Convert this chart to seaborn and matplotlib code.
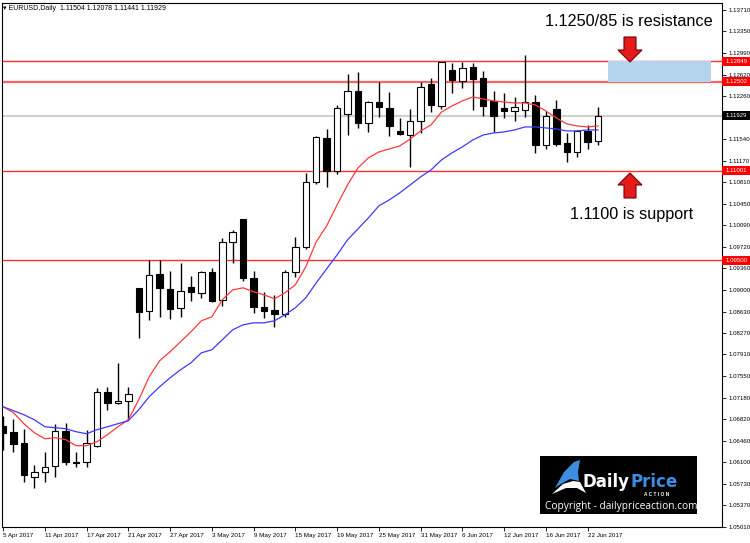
import numpy as np
import pandas as pd
import matplotlib
matplotlib.use("Agg")
import matplotlib.pyplot as plt
import seaborn as sns
from matplotlib.patches import Rectangle, Polygon

# ---------------- data ----------------
dates = pd.bdate_range("2017-04-05", "2017-06-23")

opens = [1.06710, 1.06609, 1.06424, 1.05852, 1.05936, 1.06037, 1.06626, 1.06104, 1.06104, 1.06374,
         1.07282, 1.07097, 1.07131, 1.09032, 1.08645, 1.09268, 1.09015, 1.08696, 1.09049, 1.08948,
         1.09301, 1.08830, 1.09806, 1.10193, 1.09200, 1.08712, 1.08662, 1.08595, 1.09301, 1.09722,
         1.10816, 1.11556, 1.11001, 1.11960, 1.12347, 1.11808, 1.12162, 1.12061, 1.11674, 1.11606,
         1.11842, 1.12465, 1.12094, 1.12700, 1.12515, 1.12751, 1.12566, 1.12179, 1.12061, 1.12010,
         1.12027, 1.12162, 1.11438, 1.12044, 1.11472, 1.11320, 1.11674, 1.11504]
highs = [1.06878, 1.06828, 1.06660, 1.06054, 1.06273, 1.06744, 1.06761, 1.06273, 1.06643, 1.07350,
         1.07366, 1.07770, 1.07366, 1.09032, 1.09503, 1.09503, 1.09318, 1.09453, 1.09234, 1.09318,
         1.09369, 1.09873, 1.10008, 1.10193, 1.09318, 1.08965, 1.08914, 1.09335, 1.09890, 1.10967,
         1.11590, 1.11707, 1.12111, 1.12633, 1.12667, 1.12179, 1.12498, 1.12330, 1.11893, 1.12044,
         1.12498, 1.12566, 1.12835, 1.12818, 1.12835, 1.12818, 1.12683, 1.12347, 1.12313, 1.12246,
         1.12953, 1.12280, 1.12010, 1.12195, 1.11640, 1.11691, 1.11775, 1.12078]
lows = [1.06306, 1.06273, 1.05768, 1.05667, 1.05768, 1.05852, 1.06054, 1.06020, 1.06020, 1.06357,
        1.06979, 1.07080, 1.06811, 1.08191, 1.08494, 1.08544, 1.08511, 1.08544, 1.08813, 1.08864,
        1.08790, 1.08729, 1.09453, 1.09150, 1.08611, 1.08527, 1.08376, 1.08544, 1.09217, 1.09688,
        1.10782, 1.10732, 1.10950, 1.11606, 1.11724, 1.11657, 1.11909, 1.11590, 1.11606, 1.11068,
        1.11640, 1.11993, 1.12044, 1.12313, 1.12397, 1.12027, 1.11926, 1.11657, 1.11893, 1.11842,
        1.11909, 1.11304, 1.11371, 1.11421, 1.11152, 1.11236, 1.11371, 1.11441]
closes = [1.06592, 1.06407, 1.05886, 1.05936, 1.06020, 1.06626, 1.06104, 1.06088, 1.06424, 1.07282,
          1.07097, 1.07131, 1.07249, 1.08628, 1.09251, 1.09032, 1.08679, 1.08982, 1.08965, 1.09301,
          1.08813, 1.09806, 1.09974, 1.09200, 1.08712, 1.08645, 1.08595, 1.09301, 1.09722, 1.10816,
          1.11573, 1.11001, 1.12061, 1.12347, 1.11808, 1.12162, 1.12078, 1.11758, 1.11623, 1.11842,
          1.12414, 1.12111, 1.12835, 1.12532, 1.12734, 1.12549, 1.12094, 1.11926, 1.12010, 1.12078,
          1.12162, 1.11438, 1.11926, 1.11455, 1.11320, 1.11674, 1.11489, 1.11929]

ma_fast = [1.07030, 1.06929, 1.06744, 1.06592, 1.06491, 1.06508, 1.06475, 1.06374, 1.06374, 1.06441,
           1.06559, 1.06693, 1.06811, 1.07148, 1.07535, 1.07804, 1.07955, 1.08124, 1.08292, 1.08477,
           1.08544, 1.08830, 1.08998, 1.09032, 1.08965, 1.08914, 1.08847, 1.08948, 1.09083, 1.09386,
           1.09806, 1.10075, 1.10429, 1.10765, 1.11051, 1.11220, 1.11320, 1.11371, 1.11421, 1.11539,
           1.11674, 1.11775, 1.11993, 1.12094, 1.12179, 1.12246, 1.12212, 1.12179, 1.12162, 1.12145,
           1.12145, 1.12111, 1.12010, 1.11893, 1.11792, 1.11758, 1.11741, 1.11758]
ma_slow = [1.07030, 1.06963, 1.06895, 1.06811, 1.06693, 1.06677, 1.06660, 1.06609, 1.06576, 1.06643,
           1.06693, 1.06744, 1.06794, 1.06979, 1.07198, 1.07366, 1.07518, 1.07652, 1.07770, 1.07938,
           1.07989, 1.08157, 1.08325, 1.08410, 1.08443, 1.08443, 1.08477, 1.08578, 1.08696, 1.08864,
           1.09116, 1.09352, 1.09587, 1.09840, 1.10025, 1.10210, 1.10412, 1.10513, 1.10631, 1.10765,
           1.10900, 1.11018, 1.11186, 1.11304, 1.11405, 1.11522, 1.11606, 1.11640, 1.11657, 1.11691,
           1.11741, 1.11741, 1.11724, 1.11707, 1.11674, 1.11674, 1.11691, 1.11691]

red_levels = [1.12849, 1.12502, 1.11001, 1.09500]
bid_level = 1.11929
zone_low, zone_high = 1.12502, 1.12849

price_ticks = [1.13710, 1.13350, 1.12990, 1.12620, 1.12260, 1.11540, 1.11170, 1.10810, 1.10450,
               1.10090, 1.09720, 1.09360, 1.09000, 1.08630, 1.08270, 1.07910, 1.07550, 1.07180,
               1.06820, 1.06460, 1.06100, 1.05730, 1.05370, 1.05010]
date_ticks = ["2017-04-05", "2017-04-11", "2017-04-17", "2017-04-21", "2017-04-27", "2017-05-03",
              "2017-05-09", "2017-05-15", "2017-05-19", "2017-05-25", "2017-05-31", "2017-06-06",
              "2017-06-12", "2017-06-16", "2017-06-22"]
date_labels = ["5 Apr 2017", "11 Apr 2017", "17 Apr 2017", "21 Apr 2017", "27 Apr 2017", "3 May 2017",
               "9 May 2017", "15 May 2017", "19 May 2017", "25 May 2017", "31 May 2017", "6 Jun 2017",
               "12 Jun 2017", "16 Jun 2017", "22 Jun 2017"]
header = "\u25BE EURUSD,Daily  1.11504 1.12078 1.11441 1.11929"
txt_res = "1.1250/85 is resistance"
txt_sup = "1.1100 is support"

# ---------------- style ----------------
sns.set_style("white")
plt.rcParams['font.family'] = ['Liberation Sans', 'DejaVu Sans']

W, H = 750, 543
fig = plt.figure(figsize=(W / 100, H / 100), dpi=100)
ax = fig.add_axes([2 / W, 16 / H, 720 / W, 524 / H])

df = pd.DataFrame({"x": np.arange(len(dates)), "open": opens, "high": highs,
                   "low": lows, "close": closes, "fast": ma_fast, "slow": ma_slow})
up = df["close"] >= df["open"]

# wicks
ax.vlines(df["x"], df["low"], df["high"], color="black", lw=1.0, zorder=3)
# bodies
body_h = (df["close"] - df["open"]).abs().clip(lower=0.00005)
body_b = df[["open", "close"]].min(axis=1)
ax.bar(df["x"], body_h, bottom=body_b, width=0.62,
       color=np.where(up, "white", "black"), edgecolor="black", lw=0.8, zorder=4)

# moving averages
sns.lineplot(data=df, x="x", y="fast", color="#ff3a3a", lw=0.9, ax=ax, zorder=5)
sns.lineplot(data=df, x="x", y="slow", color="#3a3aff", lw=0.9, ax=ax, zorder=5)

# horizontal levels
for lv in red_levels:
    ax.axhline(lv, color="#ff3030", lw=1.6 if lv == 1.12502 else 1.0,
               alpha=0.75 if lv == 1.12502 else 1.0, zorder=2)
ax.axhline(bid_level, color="#cfcfcf", lw=1.5, zorder=1)

# resistance zone
ax.add_patch(Rectangle((57.95, zone_low), 9.85, zone_high - zone_low,
                       fc="#b4d4ee", ec="none", zorder=2))

ax.set_xlim(-0.1, 68.87)
ax.set_ylim(1.05005, 1.13828)
ax.set_xlabel("")
ax.set_ylabel("")

# axes formatting
for s in ax.spines.values():
    s.set_color("black")
    s.set_linewidth(0.8)
ax.yaxis.tick_right()
ax.set_yticks(price_ticks)
ax.set_yticklabels([f"{v:.5f}" for v in price_ticks])
pos = [int(np.where(dates == pd.Timestamp(d))[0][0]) for d in date_ticks]
ax.set_xticks(pos)
ax.set_xticklabels(date_labels)
ax.tick_params(axis="y", which="both", right=True, left=False, length=3, width=0.6,
               labelsize=4.4, pad=1.5, colors="black")
ax.tick_params(axis="x", which="both", bottom=True, length=3, width=0.6,
               labelsize=4.5, pad=1.5, colors="black")
for lbl in ax.get_xticklabels():
    lbl.set_ha("left")

# price labels on right axis
ytr = ax.get_yaxis_transform()
box_h = 9 / 5943.0
for lv, fc in [(red_levels[0], "red"), (red_levels[1], "red"), (red_levels[2], "red"),
               (red_levels[3], "red"), (bid_level, "black")]:
    ax.add_patch(Rectangle((1.0, lv - box_h / 2), 28 / 720, box_h, transform=ytr,
                           fc=fc, ec="none", clip_on=False, zorder=10))
    ax.text(1.0 + 4 / 720, lv, f"{lv:.5f}", transform=ytr, color="white", fontsize=4.4,
            ha="left", va="center", zorder=11, clip_on=False)

# overlay in pixel coordinates for annotations
ov = fig.add_axes([0, 0, 1, 1], zorder=20)
ov.set_xlim(0, W)
ov.set_ylim(H, 0)
ov.axis("off")
ov.patch.set_alpha(0)

ov.text(3, 8, header, fontsize=5, ha="left", va="center", color="black")
ov.text(545, 22, txt_res, fontsize=11.7, ha="left", va="center", color="black")
ov.text(570, 215, txt_sup, fontsize=11.7, ha="left", va="center", color="black")

down = [(624, 37), (636, 37), (636, 50), (642, 50), (630, 62), (618, 50), (624, 50)]
upa = [(630, 173), (642, 185), (636, 185), (636, 198), (624, 198), (624, 185), (618, 185)]
for pts in (down, upa):
    ov.add_patch(Polygon(pts, closed=True, fc="#e31b1b", ec="#7a0000", lw=0.8))

# logo box
ov.add_patch(Rectangle((540, 456), 157, 58, fc="black", ec="none"))
ov.add_patch(Polygon([(555, 488), (564, 472), (574, 462), (580, 460), (578, 472),
                      (579, 481), (570, 479), (561, 484)], closed=True, fc="#3d8ee0", ec="none"))
ov.add_patch(Polygon([(552, 494), (563, 484), (573, 481), (580, 482), (586, 493),
                      (577, 488), (566, 488)], closed=True, fc="white", ec="none"))
ov.text(583, 482, "Daily", fontsize=12, fontweight="bold", color="white",
        ha="left", va="center", family=["DejaVu Sans"])
ov.text(631, 482, "Price", fontsize=12, fontweight="bold", color="#3d8ee0",
        ha="left", va="center", family=["DejaVu Sans"])
ov.text(657, 495, "A C T I O N", fontsize=3.4, fontweight="bold", color="white",
        ha="center", va="center")
ov.text(545, 506, "Copyright - dailypriceaction.com", fontsize=7.3, color="white",
        ha="left", va="center", family=["Open Sans", "DejaVu Sans"])

fig.savefig("out.png", dpi=100)
